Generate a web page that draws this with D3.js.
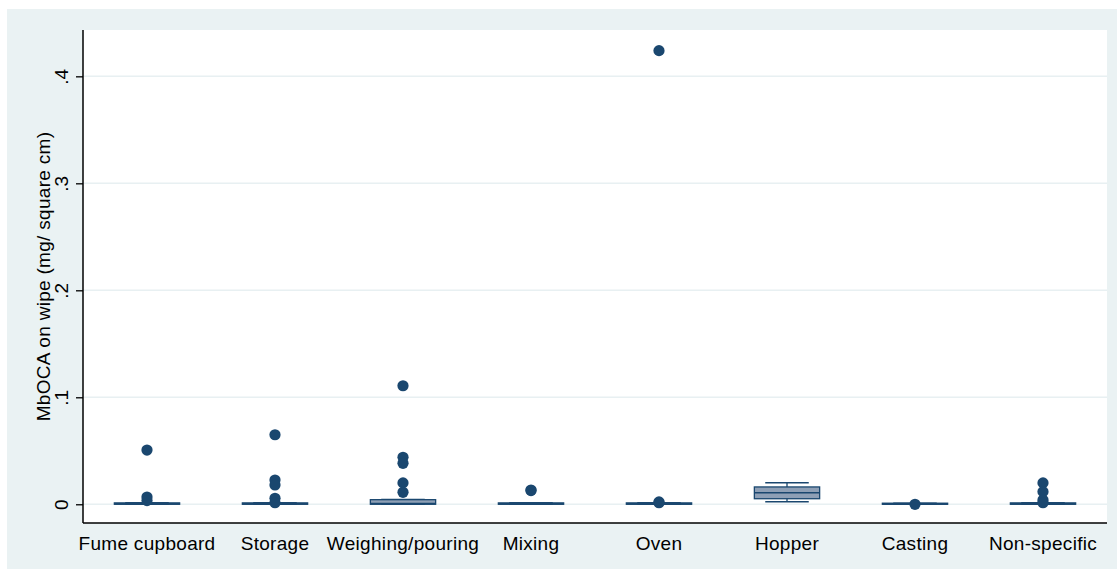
<!DOCTYPE html>
<html>
<head>
<meta charset="utf-8">
<script src="https://cdn.jsdelivr.net/npm/d3@7"></script>
<style>
  html, body { margin: 0; padding: 0; background: #ffffff; }
  svg { display: block; font-family: "Liberation Sans", Arial, sans-serif; }
</style>
</head>
<body>
<svg id="chart" width="1117" height="569"></svg>
<script>
// Work area categories
const categories = ["Fume cupboard", "Storage", "Weighing/pouring", "Mixing", "Oven", "Hopper", "Casting", "Non-specific"];

// Box summaries (mg / square cm)
const lowerWhisker = [0, 0, 0, 0, 0, 0.0024, 0, 0];
const quartile1    = [0, 0, 0, 0, 0, 0.0052, 0, 0];
const medians      = [0.0005, 0.0005, 0.0008, 0.0005, 0.0005, 0.0108, 0.0003, 0.0005];
const quartile3    = [0.0013, 0.0013, 0.0043, 0.0013, 0.0013, 0.0162, 0.0010, 0.0013];
const upperWhisker = [0.0014, 0.0014, 0.0045, 0.0014, 0.0014, 0.0202, 0.0010, 0.0014];

// Outside values per category
const outliers = [
  [0.0507, 0.0068, 0.0035],
  [0.065, 0.0227, 0.018, 0.0056, 0.0015],
  [0.1108, 0.0439, 0.0383, 0.020, 0.0112],
  [0.0133, 0.0128],
  [0.424, 0.0022, 0.0015],
  [],
  [0],
  [0.020, 0.0118, 0.004, 0.0015]
];

// Axis ticks
const yTicks = [0, 0.1, 0.2, 0.3, 0.4];
const yTickLabels = ["0", ".1", ".2", ".3", ".4"];
const yTitle = "MbOCA on wipe (mg/ square cm)";

const navy = "#1a476f";
const boxFill = "#8e9fb5";
const regionBg = "#eaf2f3";
const fontFamily = "\"Liberation Sans\", Arial, sans-serif";

const svg = d3.select("#chart");
const W = 1117, H = 569;
const plot = { left: 83, right: 1107, top: 30, bottom: 523 };

// graph region
svg.append("rect").attr("x", 7).attr("y", 9).attr("width", W - 7).attr("height", H - 9).attr("fill", regionBg);
// plot region
svg.append("rect").attr("x", plot.left).attr("y", plot.top)
  .attr("width", plot.right - plot.left).attr("height", plot.bottom - plot.top).attr("fill", "#ffffff");

const x = d3.scaleBand().domain(categories).range([plot.left, plot.right]).paddingInner(0).paddingOuter(0);
const y = d3.scaleLinear().domain([-0.0175, 0.4433]).range([plot.bottom, plot.top]);

// gridlines
svg.append("g").selectAll("line").data(yTicks).join("line")
  .attr("x1", plot.left).attr("x2", plot.right)
  .attr("y1", d => y(d)).attr("y2", d => y(d))
  .attr("stroke", "#e8f0f2").attr("stroke-width", 1.5);

// y axis
const yAxis = d3.axisLeft(y).tickValues(yTicks).tickSize(7)
  .tickFormat((d, i) => yTickLabels[i]);
const gy = svg.append("g").attr("transform", `translate(${plot.left},0)`).call(yAxis);
gy.select(".domain").remove();
gy.selectAll(".tick line").attr("stroke", "#000").attr("stroke-width", 1.3);
gy.selectAll(".tick text")
  .attr("x", null).attr("dy", null)
  .attr("text-anchor", "middle")
  .attr("transform", "translate(-15,0) rotate(-90)")
  .attr("font-size", 19).attr("fill", "#000")
  .style("font-family", fontFamily);

// axis lines
svg.append("line").attr("x1", plot.left).attr("x2", plot.left).attr("y1", plot.top).attr("y2", plot.bottom)
  .attr("stroke", "#000").attr("stroke-width", 1.5);
svg.append("line").attr("x1", plot.left).attr("x2", plot.right).attr("y1", plot.bottom).attr("y2", plot.bottom)
  .attr("stroke", "#000").attr("stroke-width", 1.5);

// x labels
const xAxis = d3.axisBottom(x).tickSize(0).tickPadding(0);
const gx = svg.append("g").attr("transform", `translate(0,${plot.bottom})`).call(xAxis);
gx.select(".domain").remove();
gx.selectAll(".tick text")
  .attr("y", 27).attr("dy", null)
  .attr("font-size", 19).attr("fill", "#000")
  .style("letter-spacing", "0.3px")
  .style("font-family", fontFamily);

// y title
svg.append("text")
  .attr("transform", `translate(50,${(plot.top + plot.bottom) / 2}) rotate(-90)`)
  .attr("text-anchor", "middle").attr("font-size", 19).attr("fill", "#000")
  .style("letter-spacing", "0.3px")
  .text(yTitle);

// boxes
const boxW = x.bandwidth() * 0.51;
const capW = boxW * 2 / 3;
const boxes = svg.append("g");
categories.forEach((c, i) => {
  const cx = x(c) + x.bandwidth() / 2;
  const g = boxes.append("g");
  // whiskers
  g.append("line").attr("x1", cx).attr("x2", cx).attr("y1", y(quartile3[i])).attr("y2", y(upperWhisker[i]))
    .attr("stroke", navy).attr("stroke-width", 1.3);
  g.append("line").attr("x1", cx).attr("x2", cx).attr("y1", y(quartile1[i])).attr("y2", y(lowerWhisker[i]))
    .attr("stroke", navy).attr("stroke-width", 1.3);
  g.append("line").attr("x1", cx - capW / 2).attr("x2", cx + capW / 2)
    .attr("y1", y(upperWhisker[i])).attr("y2", y(upperWhisker[i]))
    .attr("stroke", navy).attr("stroke-width", 1.5);
  g.append("line").attr("x1", cx - capW / 2).attr("x2", cx + capW / 2)
    .attr("y1", y(lowerWhisker[i])).attr("y2", y(lowerWhisker[i]))
    .attr("stroke", navy).attr("stroke-width", 1.5);
  // box
  g.append("rect").attr("x", cx - boxW / 2).attr("width", boxW)
    .attr("y", y(quartile3[i])).attr("height", Math.max(0, y(quartile1[i]) - y(quartile3[i])))
    .attr("fill", boxFill).attr("stroke", navy).attr("stroke-width", 1.3);
  // median
  g.append("line").attr("x1", cx - boxW / 2).attr("x2", cx + boxW / 2)
    .attr("y1", y(medians[i])).attr("y2", y(medians[i]))
    .attr("stroke", navy).attr("stroke-width", 1.5);
  // outside values
  g.selectAll("circle").data(outliers[i]).join("circle")
    .attr("cx", cx).attr("cy", d => y(d)).attr("r", 5.6)
    .attr("fill", navy);
});
</script>
</body>
</html>
